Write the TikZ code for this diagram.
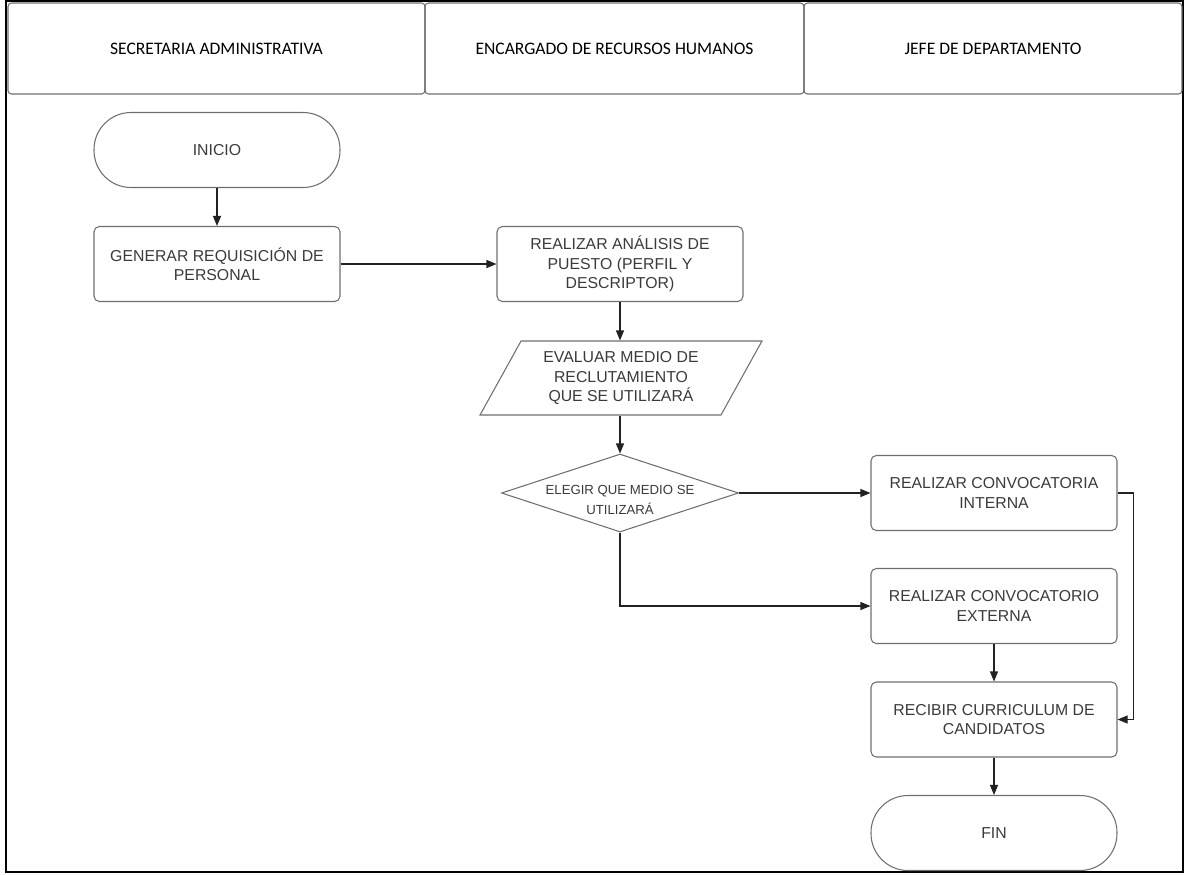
\documentclass[tikz,border=0pt]{standalone}
\usepackage{fontspec}
\setmainfont{Liberation Sans}
\newfontfamily\hdrfont{Carlito}
\usetikzlibrary{arrows.meta,shapes.geometric,positioning}

\definecolor{boxline}{HTML}{6E6E6E}
\definecolor{boxtext}{HTML}{3A3A3A}
\definecolor{flowline}{HTML}{222222}

\begin{document}
\begin{tikzpicture}[
  x=1cm, y=1cm,
  lane/.style={draw=boxline, rounded corners=2pt, line width=0.6pt, minimum height=1.82cm, font=\hdrfont\fontsize{10}{12}\selectfont, text=black},
  term/.style={draw=boxline, rounded corners=0.74cm, line width=0.6pt, minimum width=4.92cm, minimum height=1.5cm, align=center, font=\fontsize{9}{11}\selectfont, text=boxtext},
  proc/.style={draw=boxline, rounded corners=3pt, line width=0.6pt, minimum width=4.92cm, minimum height=1.5cm, align=center, font=\fontsize{9}{11}\selectfont, text=boxtext},
  io/.style={draw=boxline, trapezium, trapezium left angle=62, trapezium right angle=118, trapezium stretches=true, line width=0.6pt, minimum width=5.64cm, minimum height=1.48cm, align=center, font=\fontsize{9}{11}\selectfont, text=boxtext},
  decision/.style={draw=boxline, diamond, line width=0.6pt, minimum width=4.74cm, minimum height=1.56cm, inner sep=0pt},
  dectext/.style={align=center, font=\fontsize{7.5}{11}\selectfont, text=boxtext},
  arrow/.style={-{Triangle[length=2mm, width=1.6mm]}, draw=flowline, line width=0.6pt}
]
\useasboundingbox (0,0) rectangle (23.7,-17.48);
\draw[line width=1.2pt] (0.12,-0.02) rectangle (23.66,-17.44);

% lanes
\node[lane, minimum width=8.34cm] (l1) at (4.33,-0.97) {SECRETARIA ADMINISTRATIVA};
\node[lane, minimum width=7.58cm] (l2) at (12.29,-0.97) {ENCARGADO DE RECURSOS HUMANOS};
\node[lane, minimum width=7.56cm] (l3) at (19.86,-0.97) {JEFE DE DEPARTAMENTO};

% secretaria
\node[term] (ini) at (4.34,-3.0) {INICIO};
\node[proc] (gen) at (4.34,-5.28) {GENERAR REQUISICIÓN DE\\PERSONAL};

% recursos humanos
\node[proc] (ana) at (12.4,-5.28) {REALIZAR ANÁLISIS DE\\PUESTO (PERFIL Y\\DESCRIPTOR)};
\node[io] (eva) at (12.42,-7.56) {EVALUAR MEDIO DE\\RECLUTAMIENTO\\QUE SE UTILIZARÁ};
\node[decision] (dec) at (12.4,-9.86) {};
\node[dectext] (dect) at (12.4,-10.0) {ELEGIR QUE MEDIO SE\\UTILIZARÁ};

% jefe
\node[proc] (cint) at (19.88,-9.86) {REALIZAR CONVOCATORIA\\INTERNA};
\node[proc] (cext) at (19.88,-12.12) {REALIZAR CONVOCATORIO\\EXTERNA};
\node[proc] (rec) at (19.88,-14.39) {RECIBIR CURRICULUM DE\\CANDIDATOS};
\node[term] (fin) at (19.88,-16.66) {FIN};

\draw[arrow] (ini) -- (gen);
\draw[arrow] (gen) -- (ana);
\draw[arrow] (ana.south) -- (ana.south |- eva.north);
\draw[arrow] (ana.south |- eva.south) -- (dec.north);
\draw[arrow] (dec.east) -- (cint.west);
\draw[arrow] (dec.south) |- (cext.west);
\draw[arrow] (cint.east) -- ++(0.32,0) |- (rec.east);
\draw[arrow] (cext) -- (rec);
\draw[arrow] (rec) -- (fin);
\end{tikzpicture}
\end{document}
